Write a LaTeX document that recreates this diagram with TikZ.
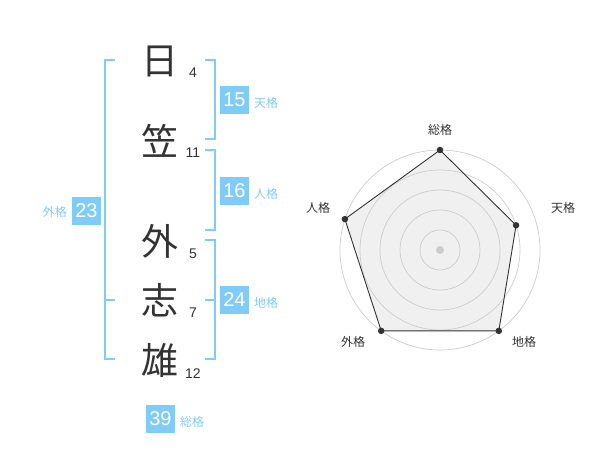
\documentclass[tikz,border=0pt]{standalone}
\usepackage{fontspec}
\setmainfont{Liberation Sans}
\newfontfamily\jp{Noto Sans CJK JP}
\definecolor{kblue}{HTML}{80CCF8}
\definecolor{kdark}{HTML}{333333}
\definecolor{kgrid}{HTML}{CCCCCC}
\definecolor{kfill}{HTML}{F0F0F0}
\tikzset{
  kanji/.style={font=\jp\fontsize{37}{37}\selectfont, text=kdark, inner sep=0pt},
  stroke/.style={font=\fontsize{14}{14}\selectfont, text=kdark, inner sep=0pt},
  numbox/.style={fill=kblue, text=white, font=\fontsize{20}{20}\selectfont, minimum width=29pt, minimum height=28pt, inner sep=0pt},
  kaku/.style={font=\jp\fontsize{12}{12}\selectfont, text=kblue, inner sep=0pt},
  brk/.style={draw=kblue, line width=1.6pt},
  radlab/.style={font=\jp\fontsize{12}{12}\selectfont, text=kdark, inner sep=0pt},
  grid/.style={draw=kgrid, line width=0.7pt},
  vdot/.style={circle, fill=kdark, inner sep=0pt, minimum size=6.5pt},
}
\begin{document}
\begin{tikzpicture}[x=1pt,y=-1pt]
\useasboundingbox (0,0) rectangle (600,470);
% kanji
\node[kanji] (c1) at (160,61) {日};
\node[kanji] (c2) at (160,141) {笠};
\node[kanji] (c3) at (160,241) {外};
\node[kanji] (c4) at (160,300) {志};
\node[kanji] (c5) at (160,360) {雄};
\node[stroke] (s1) at (193,73) {4};
\node[stroke] (s2) at (193,153) {11};
\node[stroke] (s3) at (193,254) {5};
\node[stroke] (s4) at (193,313) {7};
\node[stroke] (s5) at (193,374) {12};
% left bracket (gaikaku)
\coordinate (la) at (115,60);
\coordinate (lb) at (115,300);
\coordinate (lc) at (115,359);
\draw[brk] (la) -- ++(-10,0) |- (lc);
\draw[brk] (lb) -- ++(-10,0);
% right brackets
\coordinate (ta) at (205,60);
\coordinate (tb) at (205,139);
\draw[brk] (ta) -- ++(10,0) |- (tb);
\coordinate (ja) at (205,150);
\coordinate (jb) at (205,230);
\draw[brk] (ja) -- ++(10,0) |- (jb);
\coordinate (ca) at (205,240);
\coordinate (cb) at (205,300);
\coordinate (cc) at (205,359);
\draw[brk] (ca) -- ++(10,0) |- (cc);
\draw[brk] (cb) -- ++(10,0);
% boxes
\node[numbox] (b23) at (86.5,211) {23};
\node[kaku, anchor=east] (k23) at (67,212) {外格};
\node[numbox] (b15) at (234.5,100) {15};
\node[kaku, anchor=west] (k15) at (254,103) {天格};
\node[numbox] (b16) at (234.5,191) {16};
\node[kaku, anchor=west] (k16) at (254,194) {人格};
\node[numbox] (b24) at (234.5,300) {24};
\node[kaku, anchor=west] (k24) at (254,303) {地格};
\node[numbox] (b39) at (160.5,419) {39};
\node[kaku, anchor=west] (k39) at (180,422) {総格};
% radar
\coordinate (o) at (440,250);
\path (o) ++(0,-100) coordinate (v1);
\path (o) ++({80*cos(18)},{-80*sin(18)}) coordinate (v2);
\path (o) ++({100*cos(54)},{100*sin(54)}) coordinate (v3);
\path (o) ++({-100*cos(54)},{100*sin(54)}) coordinate (v4);
\path (o) ++({-100*cos(18)},{-100*sin(18)}) coordinate (v5);
\fill[kfill] (v1) -- (v2) -- (v3) -- (v4) -- (v5) -- cycle;
\foreach \rr in {20,40,60,80,100} \draw[grid] (o) circle (\rr);
\fill[kgrid] (o) circle (4);
\draw[kdark, line width=0.9pt] (v1) -- (v2) -- (v3) -- (v4) -- (v5) -- cycle;
\node[vdot] (d1) at (v1) {};
\node[vdot] (d2) at (v2) {};
\node[vdot] (d3) at (v3) {};
\node[vdot] (d4) at (v4) {};
\node[vdot] (d5) at (v5) {};
\node[radlab] (r1) at (440,130) {総格};
\node[radlab] (r2) at (563,208) {天格};
\node[radlab] (r3) at (524,342) {地格};
\node[radlab] (r4) at (353,342) {外格};
\node[radlab] (r5) at (318,208) {人格};
\end{tikzpicture}
\end{document}
